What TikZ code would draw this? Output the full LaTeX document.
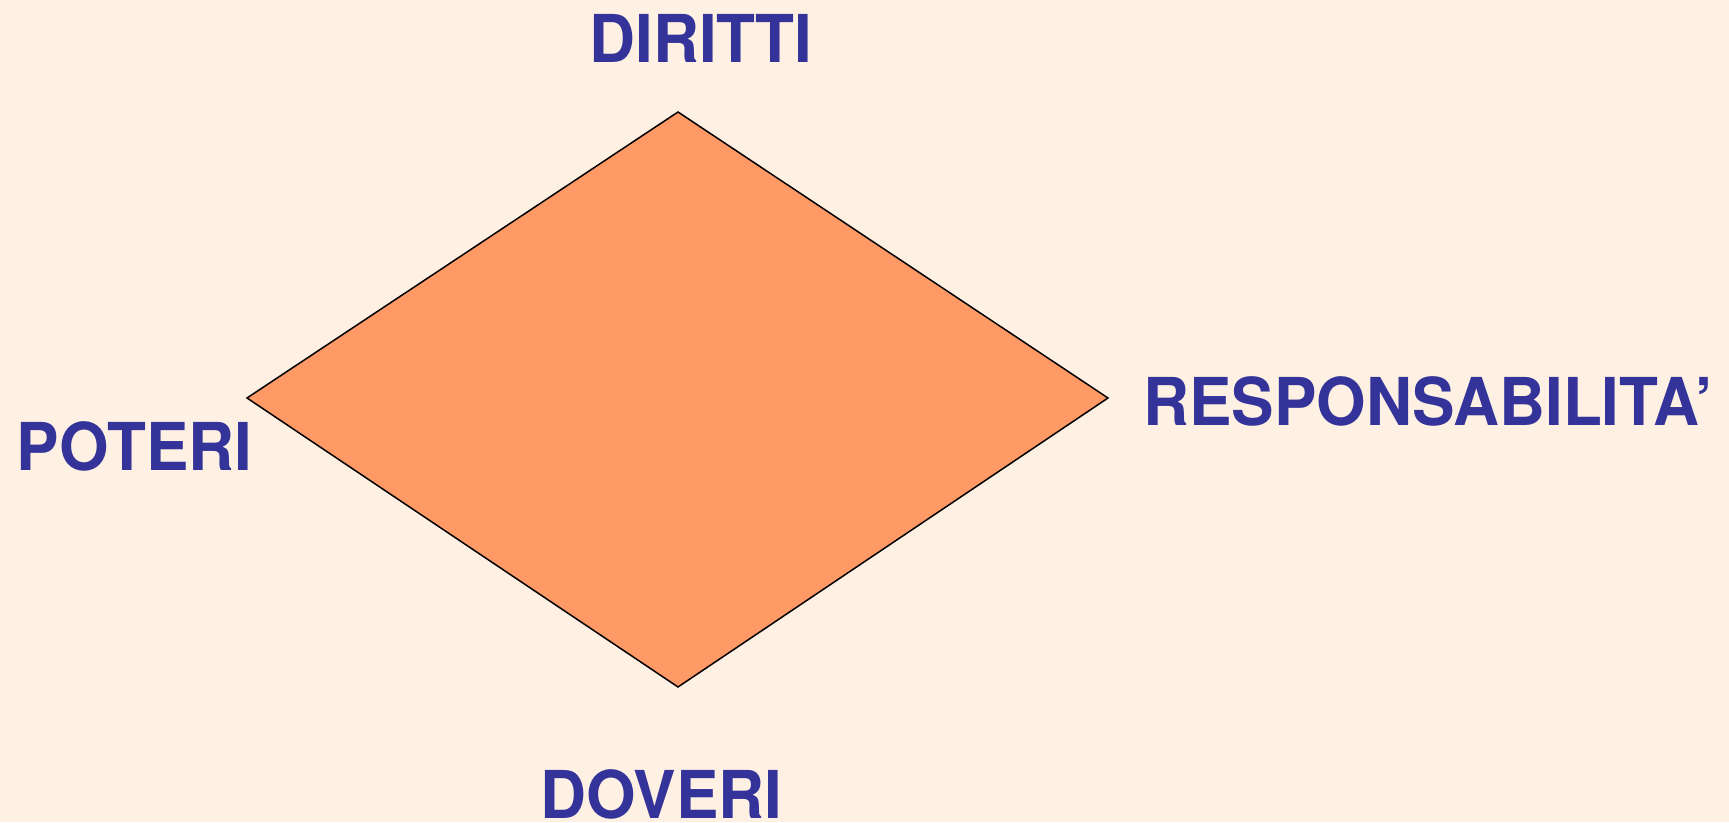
\documentclass[tikz,border=0pt]{standalone}
\usepackage{fontspec}
\setmainfont{TeX Gyre Heros}[FakeStretch=0.965]
\definecolor{bgc}{HTML}{FEF0E3}
\definecolor{fillc}{HTML}{FF9966}
\definecolor{txtc}{HTML}{333399}
\begin{document}
\begin{tikzpicture}[x=1pt,y=1pt,
  lbl/.style={anchor=base,inner sep=0pt,text=txtc,font=\fontsize{66}{70}\selectfont\bfseries}]
\fill[bgc] (0,0) rectangle (1729,822);
\useasboundingbox (0,0) rectangle (1729,822);
\coordinate (T) at (678,710);
\coordinate (R) at (1108,424);
\coordinate (B) at (678,135);
\coordinate (L) at (247,424);
\filldraw[fill=fillc,draw=black,line width=1.5pt,line join=miter] (T) -- (R) -- (B) -- (L) -- cycle;
\node[lbl] (dir) at (701,759) {DIRITTI};
\node[lbl] (pot) at (134.5,351) {POTERI};
\node[lbl] (res) at (1428,396) {RESPONSABILITA’};
\node[lbl] (dov) at (661.5,4) {DOVERI};
\end{tikzpicture}
\end{document}
